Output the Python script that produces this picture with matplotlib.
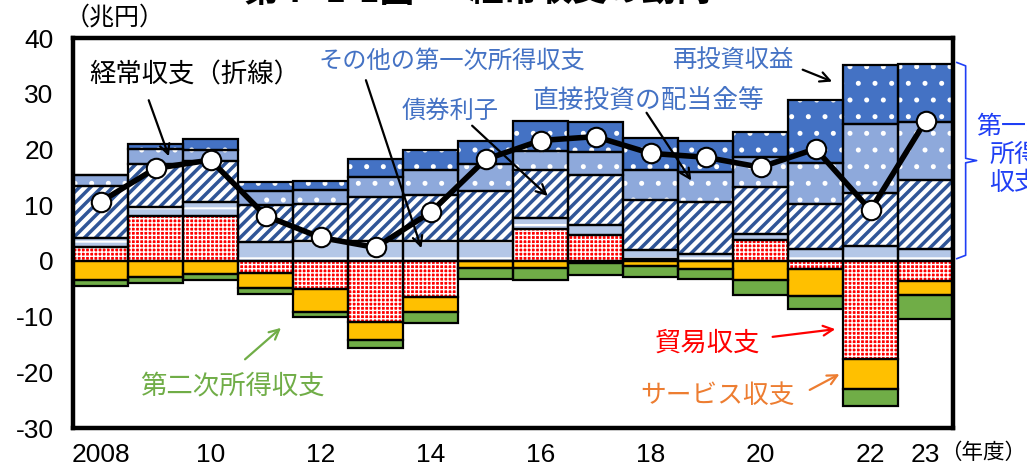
import matplotlib
matplotlib.use("Agg")
import matplotlib.pyplot as plt
import numpy as np

plt.rcParams['axes.unicode_minus'] = False
JP = ['Noto Sans CJK JP', 'DejaVu Sans']
NUM = ['Liberation Sans Narrow', 'Liberation Sans', 'DejaVu Sans']

# 年度別の経常収支の内訳（兆円）
years = list(range(2008, 2024))
tick_years = [2008, 2010, 2012, 2014, 2016, 2018, 2020, 2022, 2023]
tick_labels = ['2008', '10', '12', '14', '16', '18', '20', '22', '23']

trade = [2.5, 8.1, 8.1, -2.1, -5.1, -10.9, -6.5, 0.0, 5.7, 4.7, 0.4, 0.0, 3.7, -1.5, -17.7, -3.7]
services = [-3.4, -2.9, -2.4, -2.8, -4.0, -3.3, -2.7, -1.2, -1.2, -0.4, -1.0, -1.4, -3.5, -4.8, -5.3, -2.5]
secondary = [-1.2, -1.0, -1.1, -1.1, -0.9, -1.4, -1.9, -2.0, -2.3, -2.2, -1.9, -1.8, -2.7, -2.4, -3.0, -4.2]
other_primary = [1.6, 1.5, 2.4, 3.3, 3.6, 3.6, 3.6, 3.6, 2.0, 1.8, 1.5, 1.2, 1.1, 2.1, 2.7, 2.1]
bond_interest = [9.4, 7.8, 7.5, 6.7, 6.6, 7.8, 8.3, 8.9, 8.6, 9.0, 9.0, 9.4, 8.4, 8.1, 9.4, 12.4]
di_dividends = [2.0, 2.6, 1.9, 2.6, 2.5, 3.6, 4.4, 4.8, 3.5, 4.0, 5.4, 5.4, 5.4, 7.3, 12.5, 10.5]
reinvested = [0.0, 0.9, 2.0, 1.5, 1.7, 3.3, 3.6, 4.2, 5.3, 5.4, 5.7, 5.6, 4.5, 11.4, 10.5, 10.4]
current_account = [10.6, 16.6, 18.1, 8.1, 4.2, 2.4, 8.7, 18.2, 21.6, 22.3, 19.3, 18.6, 16.8, 20.1, 9.1, 25.1]

fig = plt.figure(figsize=(10.27, 4.70), dpi=100)
ax = fig.add_axes([73 / 1027, 42 / 470, 880 / 1027, 390 / 470])

x = np.arange(len(years))
pos_base = np.zeros(len(years))
neg_base = np.zeros(len(years))


def layer(vals, face, hatch, hatch_color, hatch_lw):
    global pos_base, neg_base
    vals = np.asarray(vals, dtype=float)
    bottoms = np.where(vals >= 0, pos_base, neg_base)
    bars = ax.bar(x, vals, width=1.0, bottom=bottoms, color=face, edgecolor=hatch_color,
                  linewidth=0, hatch=hatch, zorder=2)
    for b in bars:
        if hasattr(b, 'set_hatch_linewidth'):
            b.set_hatch_linewidth(hatch_lw)
    ax.bar(x, vals, width=1.0, bottom=bottoms, fill=False, edgecolor='black', linewidth=1.6, zorder=3)
    pos_base = pos_base + np.clip(vals, 0, None)
    neg_base = neg_base + np.clip(vals, None, 0)


layer(trade, '#FF0000', '++++', 'white', 1.0)
layer(services, '#FFC000', None, '#FFC000', 1.0)
layer(secondary, '#70AD47', None, '#70AD47', 1.0)
layer(other_primary, '#B4C7E7', '-', 'white', 1.5)
layer(bond_interest, 'white', '///', '#2F5597', 2.5)
layer(di_dividends, '#8EA9DB', '.', 'white', 1.2)
layer(reinvested, '#4472C4', '.', 'white', 1.2)

ax.plot(x, current_account, color='black', lw=4, zorder=5, solid_capstyle='round')
ax.plot(x, current_account, 'o', ms=14, mfc='white', mec='black', mew=1.5, zorder=6)

ax.set_xlim(-0.5, 15.5)
ax.set_ylim(-30, 40)
ax.set_yticks(range(-30, 41, 10))
ax.set_yticklabels([str(v) for v in range(-30, 41, 10)], family=NUM, fontsize=19)
ax.set_xticks([years.index(y) for y in tick_years])
ax.set_xticklabels(tick_labels, family=NUM, fontsize=19)
ax.tick_params(length=0)
ax.tick_params(axis='y', pad=14)
ax.tick_params(axis='x', pad=11)
for s in ax.spines.values():
    s.set_linewidth(3.2)
    s.set_zorder(10)

fig.text(115 / 1027, 1 - 18 / 470, '（兆円）', family=JP, fontsize=18, ha='center', va='center')
fig.text(1026 / 1027, 1 - 453 / 470, '（年度）', family=JP, fontsize=15.5, ha='right', va='center')
fig.text(415 / 1027, 1 - 9 / 470, '第Ⅰ-1-1図', family=JP, fontsize=25, weight='bold',
         ha='right', va='bottom')
fig.text(468 / 1027, 1 - 9 / 470, '経常収支の動向', family=JP, fontsize=25, weight='bold',
         ha='left', va='bottom')


def note(text, xy, xytext, color, size, start=None):
    ax.text(xytext[0], xytext[1], text, color=color, family=JP, fontsize=size,
            ha='center', va='center', zorder=8)
    if start is not None:
        ax.annotate('', xy=xy, xytext=start,
                    arrowprops=dict(arrowstyle='->, head_length=0.7, head_width=0.35',
                                    color=color if color != '#4472C4' else 'black', lw=1.6),
                    zorder=8)


note('経常収支（折線）', (1.26, 18.3), (1.72, 33.3), 'black', 19, start=(0.86, 29.3))
note('その他の第一次所得収支', (5.85, 1.8), (6.39, 36.0), '#4472C4', 17.5, start=(4.81, 32.9))
note('債券利子', (8.17, 11.3), (6.35, 27.0), '#4472C4', 17.5, start=(6.72, 24.6))
note('直接投資の配当金等', (10.77, 14.0), (9.95, 28.8), '#4472C4', 18.5, start=(9.9, 27.0))
note('再投資収益', (13.35, 32.0), (11.5, 36.0), '#4472C4', 17.5, start=(12.72, 34.5))
note('第二次所得収支', (3.32, -11.7), (2.39, -22.5), '#70AD47', 19, start=(2.59, -18.0))
note('貿易収支', (13.41, -12.2), (11.03, -14.7), '#FF0000', 19, start=(12.17, -13.7))
note('サービス収支', (13.48, -20.1), (11.21, -24.3), '#ED7D31', 18.5, start=(12.85, -23.4))

# 第一次所得収支の括弧
top_y, bot_y, mid_y = 35.6, 0.4, 18.0
bx0, bx1, bx2 = 15.57, 15.73, 15.93
ax.plot([bx0, bx1, bx1, bx2, bx1, bx1, bx0],
        [top_y, top_y - 0.6, mid_y + 0.4, mid_y, mid_y - 0.4, bot_y + 0.6, bot_y],
        color='#1F3FF5', lw=1.2, clip_on=False, zorder=8)
fig.text(1014 / 1027, 1 - 155 / 470, '第一次\n所得\n収支', family=JP, fontsize=18,
         color='#1F3FF5', ha='center', va='center', linespacing=1.1)

fig.savefig('out.png', dpi=100)
